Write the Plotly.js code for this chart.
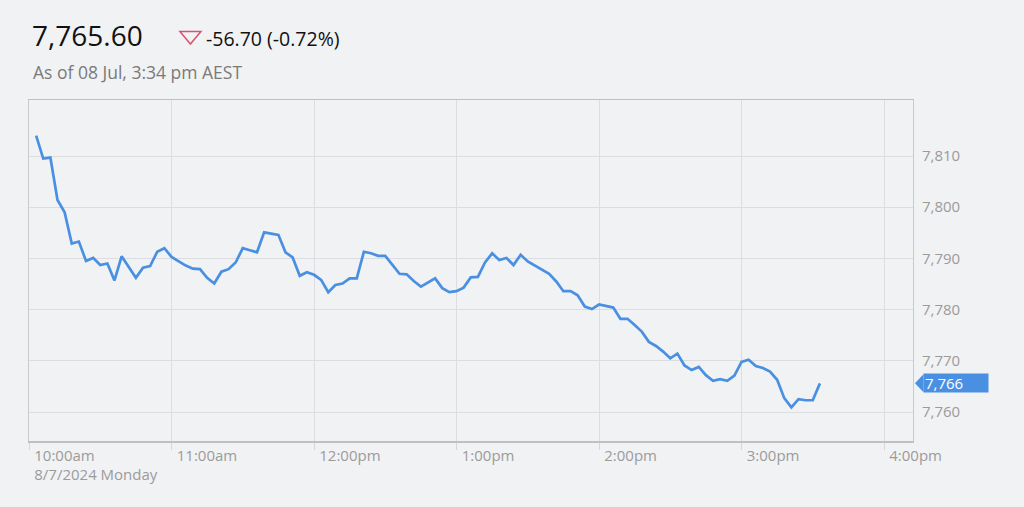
<!DOCTYPE html>
<html>
<head>
<meta charset="utf-8">
<script src="https://cdn.plot.ly/plotly-3.0.1.min.js"></script>
<style>
html,body{margin:0;padding:0;background:#f1f2f4;}
#chart{width:1024px;height:507px;}
</style>
</head>
<body>
<div id="chart"></div>
<script>
// Intraday index values, one every 3 minutes from 10:03am to 3:33pm (08 Jul 2024)
const startTime = "2024-07-08 10:03:00";
const stepMinutes = 3;
const values = [
  7814.0, 7809.5, 7809.7, 7801.4, 7799.0, 7792.9, 7793.3, 7789.5, 7790.1, 7788.7,
  7789.0, 7785.7, 7790.4, 7788.3, 7786.2, 7788.2, 7788.5, 7791.3, 7792.0, 7790.3,
  7789.4, 7788.6, 7788.0, 7787.9, 7786.2, 7785.1, 7787.4, 7787.9, 7789.2, 7792.0,
  7791.6, 7791.2, 7795.1, 7794.9, 7794.6, 7791.2, 7790.2, 7786.6, 7787.3, 7786.8,
  7785.8, 7783.4, 7784.8, 7785.1, 7786.1, 7786.1, 7791.3, 7791.0, 7790.5, 7790.5,
  7788.8, 7787.0, 7786.9, 7785.6, 7784.5, 7785.3, 7786.1, 7784.2, 7783.4, 7783.6,
  7784.3, 7786.3, 7786.4, 7789.2, 7791.0, 7789.7, 7790.1, 7788.7, 7790.7, 7789.4,
  7788.6, 7787.9, 7787.0, 7785.5, 7783.6, 7783.6, 7782.8, 7780.6, 7780.1, 7781.0,
  7780.7, 7780.4, 7778.2, 7778.2, 7777.0, 7775.7, 7773.7, 7772.9, 7771.8, 7770.5,
  7771.4, 7769.1, 7768.2, 7768.8, 7767.2, 7766.1, 7766.4, 7766.1, 7767.1, 7769.8,
  7770.2, 7769.0, 7768.6, 7767.9, 7766.3, 7762.7, 7760.9, 7762.5, 7762.3, 7762.3,
  7765.6
];
const tickTimes = ["2024-07-08 10:00", "2024-07-08 11:00", "2024-07-08 12:00", "2024-07-08 13:00",
                   "2024-07-08 14:00", "2024-07-08 15:00", "2024-07-08 16:00"];
const tickLabels = ["10:00am<br>8/7/2024 Monday", "11:00am", "12:00pm", "1:00pm", "2:00pm", "3:00pm", "4:00pm"];
const yTicks = [7760, 7770, 7780, 7790, 7800, 7810];
const yTickLabels = ["7,760", "7,770", "7,780", "7,790", "7,800", "7,810"];
const lastPrice = "7,765.60";
const change = "-56.70 (-0.72%)";
const asOf = "As of 08 Jul, 3:34 pm AEST";
const lastLabel = "7,766";

// build timestamps
function fmt(d){
  const p = n => String(n).padStart(2,"0");
  return d.getFullYear()+"-"+p(d.getMonth()+1)+"-"+p(d.getDate())+" "+p(d.getHours())+":"+p(d.getMinutes())+":00";
}
const t0 = new Date(startTime.replace(" ","T"));
const times = values.map((v,i)=>fmt(new Date(t0.getTime()+i*stepMinutes*60000)));

// layout geometry (pixels)
const L = 28.5, R = 913, T = 100, B = 441;
const W = 1024, H = 507;
const px = x => (x - L) / (R - L);
const py = y => (B - y) / (B - T);

const yMin = 7754.34, yMax = 7820.94;
const unitsPerPx = (yMax - yMin) / (B - T);
const last = values[values.length-1];

const trace = {
  x: times, y: values, type: "scatter", mode: "lines",
  line: {color: "#4a90e2", width: 2.7},
  hoverinfo: "skip"
};

const layout = {
  width: W, height: H,
  paper_bgcolor: "#f1f2f4", plot_bgcolor: "#f1f2f4",
  margin: {l: L, r: W - R, t: T, b: H - B, pad: 0},
  showlegend: false,
  xaxis: {
    type: "date",
    range: ["2024-07-08 10:00:00", "2024-07-08 16:12:12"],
    tickvals: tickTimes, ticktext: tickLabels,
    ticklabelposition: "outside right", ticklabelshift: 4,
    ticks: "outside", ticklen: 7, tickcolor: "#d6d7d9", tickwidth: 1,
    showgrid: true, gridcolor: "#dcdde0", gridwidth: 1,
    showline: true, linecolor: "#bfc0c2", linewidth: 1.5, mirror: true,
    zeroline: false,
    tickfont: {family: "Open Sans", size: 15, color: "#9b9b9b"},
    fixedrange: true
  },
  yaxis: {
    side: "right",
    range: [yMin, yMax],
    tickvals: yTicks, ticktext: yTickLabels,
    ticks: "", ticklabelstandoff: 5,
    showgrid: true, gridcolor: "#dcdde0", gridwidth: 1,
    showline: true, linecolor: "#c9cacc", linewidth: 1, mirror: true,
    zeroline: false,
    tickfont: {family: "Open Sans", size: 15, color: "#9b9b9b"},
    fixedrange: true
  },
  shapes: [
    // change indicator triangle (outline)
    {type: "path", xref: "paper", yref: "paper",
     path: "M "+px(179.5)+" "+py(31.5)+" L "+px(200.5)+" "+py(31.5)+" L "+px(190)+" "+py(44)+" Z",
     line: {color: "#d9536f", width: 1.5}, fillcolor: "rgba(0,0,0,0)"},
    // last price pointer
    {type: "path", xref: "paper", yref: "y",
     path: "M "+px(915)+" "+last+" L "+px(923.5)+" "+(last+9*unitsPerPx)+" L "+px(923.5)+" "+(last-9*unitsPerPx)+" Z",
     line: {width: 0}, fillcolor: "#4a90e2"}
  ],
  annotations: [
    {xref: "paper", yref: "paper", x: px(30), y: py(35), xanchor: "left", yanchor: "middle",
     text: lastPrice, showarrow: false, font: {family: "Open Sans", size: 28, weight: 500, color: "#111111"}},
    {xref: "paper", yref: "paper", x: px(204), y: py(39), xanchor: "left", yanchor: "middle",
     text: change, showarrow: false, font: {family: "Open Sans", size: 19.5, color: "#111111"}},
    {xref: "paper", yref: "paper", x: px(31), y: py(72), xanchor: "left", yanchor: "middle",
     text: asOf, showarrow: false, font: {family: "Open Sans", size: 17.5, color: "#7a7a7a"}},
    {xref: "paper", yref: "y", x: px(923), y: last, xanchor: "left", yanchor: "middle",
     text: lastLabel, showarrow: false, bgcolor: "#4a90e2", borderpad: 1,
     width: 62, height: 16, align: "left",
     font: {family: "Open Sans", size: 15, color: "#ffffff"}}
  ]
};

Plotly.newPlot("chart", [trace], layout, {displayModeBar: false, staticPlot: true});
</script>
</body>
</html>
